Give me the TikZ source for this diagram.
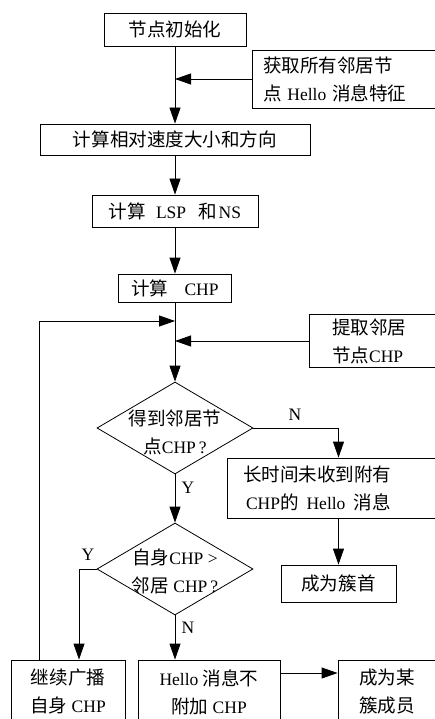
\documentclass[tikz,border=0pt]{standalone}
\usepackage{fontspec}
\setmainfont{Liberation Serif}
\newfontfamily\cjkf[Scale=1.06]{Noto Sans CJK SC}
\newcommand\zw[1]{{\cjkf #1}}
\usetikzlibrary{arrows.meta,shapes.geometric,calc}
\begin{document}
\begin{tikzpicture}[x=1pt,y=-1pt,
 every node/.style={font=\fontsize{17.5}{28}\selectfont},
 box/.style={draw,line width=0.8pt,inner sep=0pt,align=center},
 dia/.style={draw,line width=0.8pt,diamond,inner sep=0pt,minimum width=156pt,minimum height=92pt},
 arr/.style={line width=0.8pt,-{Triangle[length=16pt,width=11pt]}},
 lab/.style={inner sep=0pt}]
\useasboundingbox (0,0) rectangle (434,719);
\node[box,minimum width=142pt,minimum height=33pt] (b1) at (175,29.5) {\zw{节点初始化}};
\node[box,minimum width=184pt,minimum height=58pt,text width=162pt,inner xsep=11pt,align=left] (bget) at (344,79) {\zw{获取所有邻居节}\\\zw{点} Hello \zw{消息特征}};
\node[box,minimum width=270pt,minimum height=31pt] (b2) at (175,139.5) {\zw{计算相对速度大小和方向}};
\node[box,minimum width=166pt,minimum height=32pt] (b3) at (175,211) {\zw{计算}\hspace{10pt}LSP\hspace{12pt}\zw{和}\hspace{2pt}NS};
\node[box,minimum width=113pt,minimum height=28pt] (b4) at (175,288) {\zw{计算}\hspace{16pt}CHP};
\node[box,minimum width=127pt,minimum height=53pt,text width=81pt,inner xsep=23pt,align=left] (bext) at (372.5,341) {\zw{提取邻居}\\\zw{节点}CHP};
\node[dia] (d1) at (175,428) {};
\node[lab,align=center] (t1) at (175,432) {\zw{得到邻居节}\\\zw{点}CHP\,?};
\node[box,minimum width=209pt,minimum height=60pt,text width=177pt,inner xsep=16pt,align=left] (b5) at (331.5,488) {\zw{长时间未收到附有}\\\hspace{3pt}CHP\zw{的}\hspace{8pt}Hello\hspace{8pt}\zw{消息}};
\node[box,minimum width=115pt,minimum height=37pt] (bhead) at (338.5,583.5) {\zw{成为簇首}};
\node[dia] (d2) at (175,569) {};
\node[lab,align=center] (t2) at (175,571) {\zw{自身}CHP >\\\zw{邻居} CHP\,?};
\node[box,minimum width=114pt,minimum height=64pt] (b6) at (68,692) {\zw{继续广播}\\\zw{自身} CHP};
\node[box,minimum width=142pt,minimum height=64pt] (b7) at (209,692) {Hello \zw{消息不}\\\zw{附加} CHP};
\node[box,minimum width=98pt,minimum height=64pt] (b8) at (387,692) {\zw{成为某}\\\zw{簇成员}};
\node[lab] (n1) at (295,415) {N};
\node[lab] (y1) at (188,488) {Y};
\node[lab] (y2) at (88,555) {Y};
\node[lab] (n2) at (188,628) {N};
\coordinate (j1) at (175,79);
\coordinate (j2) at (175,321);
\coordinate (j3) at (175,341);
\draw[arr] (b1.south) -- (b2.north);
\draw[arr] (bget.west) -- (j1);
\draw[arr] (b2.south) -- (b3.north);
\draw[arr] (b3.south) -- (b4.north);
\draw[arr] (b4.south) -- (d1.north);
\draw[arr] (bext.west) -- (j3);
\draw[arr] ([xshift=29pt]b6.north west) |- (j2);
\draw[arr] (d1.east) -| (b5.north -| bhead.north);
\draw[arr] (b5.south -| bhead.north) -- (bhead.north);
\draw[arr] (d1.south) -- (d2.north);
\draw[arr] (d2.west) -| ([xshift=11pt]b6.north);
\draw[arr] (d2.south) -- (d2.south |- b7.north);
\draw[arr] ([yshift=19pt]b7.east) -- ([yshift=19pt]b8.west);
\end{tikzpicture}
\end{document}
